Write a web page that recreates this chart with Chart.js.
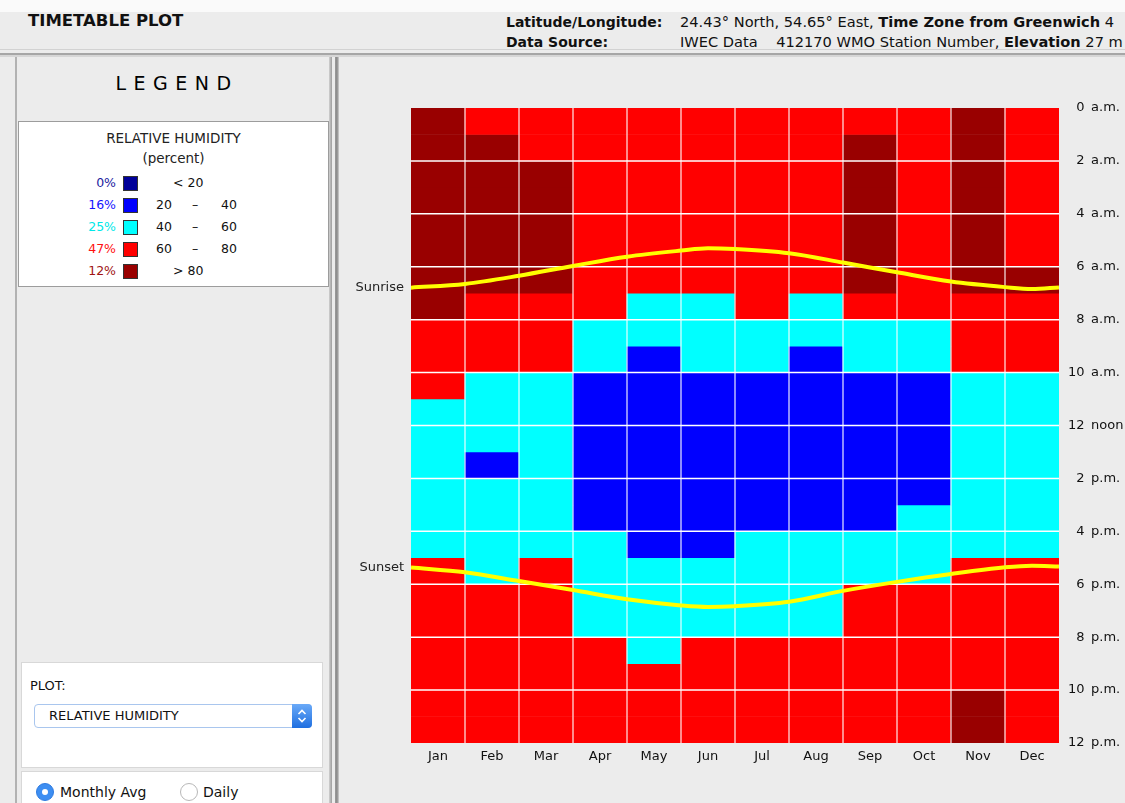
<!DOCTYPE html>
<html>
<head>
<meta charset="utf-8">
<title>Timetable plot - relative humidity</title>
<script src="https://cdn.jsdelivr.net/npm/chart.js@4/dist/chart.umd.min.js"></script>
<style>
  html, body { margin: 0; padding: 0; }
  body {
    width: 1125px; height: 803px; overflow: hidden; position: relative;
    background: #ececec; color: #111;
    font-family: "DejaVu Sans", Verdana, sans-serif;
  }
  .abs { position: absolute; white-space: nowrap; }
  #topStrip { left: 0; top: 0; width: 1125px; height: 12px; background: #fafafa; }
  #title { left: 28px; top: 11px; font-size: 16.5px; font-weight: bold; line-height: 20px; }
  #info { left: 506px; top: 12px; font-size: 14.6px; line-height: 19px; }
  #info .k { display: inline-block; width: 174px; font-weight: bold; font-size: 14px; }
  #sep1 { left: 0; top: 49px; width: 1125px; height: 1px; background: #d2d2d2; }
  #sep2 { left: 0; top: 53px; width: 1125px; height: 2px; background: #a6a6a6; }
  #sep3 { left: 0; top: 55px; width: 1125px; height: 2px; background: #d6d6d6; }
  #lpLeft { left: 15px; top: 57px; width: 2px; height: 746px; background: #b2b2b2; }
  #lpRight { left: 329px; top: 57px; width: 3px; height: 746px; background: linear-gradient(to right, #d0d0d0, #9e9e9e); }
  #rpLeft { left: 335px; top: 57px; width: 4px; height: 746px; background: linear-gradient(to right, #9c9c9c, #8a8a8a, #d2d2d2); }
  #legTitle { left: 17px; width: 313px; top: 72px; text-align: center; font-size: 19px; letter-spacing: 7.5px; padding-left: 7px; box-sizing: border-box; color: #000; }
  #legBox { left: 18px; top: 121px; width: 311px; height: 166px; background: #fff; border: 1px solid #9c9c9c; box-sizing: border-box; }
  .legTxt { font-size: 12.5px; line-height: 14px; }
  .legHead { font-size: 13.5px; line-height: 15px; }
  .sw { width: 13px; height: 13px; border: 1px solid #333; }
  #plotBox { left: 21px; top: 662px; width: 302px; height: 106px; background: #fff; border: 1px solid #d8d8d8; box-sizing: border-box; }
  #plotLbl { left: 30px; top: 678px; font-size: 13px; }
  #select { left: 34px; top: 704px; width: 278px; height: 24px; border: 1px solid #a9c6ee; border-radius: 4px; background: #fff; box-sizing: border-box; }
  #selectTxt { left: 49px; top: 708px; font-size: 13px; }
  #stepper { left: 292px; top: 704px; width: 20px; height: 24px; border-radius: 0 4px 4px 0; background: linear-gradient(#6aaaf8, #1f6fe0); }
  #radioBox { left: 21px; top: 771px; width: 302px; height: 40px; background: #fff; border: 1px solid #d8d8d8; box-sizing: border-box; }
  .radio { width: 18px; height: 18px; border-radius: 50%; box-sizing: border-box; }
  #r1 { left: 36px; top: 783px; background: #3d8ef2; border: 1px solid #2f7be0; }
  #r1dot { left: 42px; top: 789px; width: 6px; height: 6px; border-radius: 50%; background: #fff; }
  #r2 { left: 180px; top: 783px; background: #fff; border: 1px solid #b8b8b8; }
  .rlbl { top: 783px; font-size: 14px; line-height: 18px; }
  #cv { left: 340px; top: 58px; }
</style>
</head>
<body>
<div class="abs" id="topStrip"></div>
<div class="abs" id="title">TIMETABLE PLOT</div>
<div class="abs" id="info">
  <div><span class="k">Latitude/Longitude:</span>24.43° North, 54.65° East, <b>Time Zone from Greenwich</b> 4</div>
  <div><span class="k">Data Source:</span>IWEC Data &nbsp;&nbsp; 412170 WMO Station Number, <b>Elevation</b> 27 m</div>
</div>
<div class="abs" id="sep1"></div>
<div class="abs" id="sep2"></div>
<div class="abs" id="sep3"></div>
<div class="abs" id="lpLeft"></div>
<div class="abs" id="lpRight"></div>
<div class="abs" id="rpLeft"></div>

<div class="abs" id="legTitle">LEGEND</div>
<div class="abs" id="legBox"></div>
<div id="legRows"></div>

<div class="abs" id="plotBox"></div>
<div class="abs" id="plotLbl">PLOT:</div>
<div class="abs" id="select"></div>
<div class="abs" id="selectTxt">RELATIVE HUMIDITY</div>
<div class="abs" id="stepper">
  <svg width="20" height="24" viewBox="0 0 20 24">
    <polyline points="6.5,10 10,6.5 13.5,10" fill="none" stroke="#fff" stroke-width="1.6"/>
    <polyline points="6.5,14 10,17.5 13.5,14" fill="none" stroke="#fff" stroke-width="1.6"/>
  </svg>
</div>
<div class="abs" id="radioBox"></div>
<div class="abs radio" id="r1"></div>
<div class="abs" id="r1dot"></div>
<div class="abs rlbl" style="left:60px">Monthly Avg</div>
<div class="abs radio" id="r2"></div>
<div class="abs rlbl" style="left:203px">Daily</div>

<canvas class="abs" id="cv" width="785" height="745"></canvas>

<script>
const months = ['Jan','Feb','Mar','Apr','May','Jun','Jul','Aug','Sep','Oct','Nov','Dec'];

// humidity class for each hour (0 a.m. first), one string per month
// N: < 20, B: 20-40, C: 40-60, R: 60-80, D: > 80
const rhHourly = [
  'DDDDDDDDRRRCCCCCCRRRRRRR', // Jan
  'RDDDDDDRRRCCCBCCCCRRRRRR', // Feb
  'RRDDDDDRRRCCCCCCCRRRRRRR', // Mar
  'RRRRRRRRCCBBBBBBCCCCRRRR', // Apr
  'RRRRRRRCCBBBBBBBBCCCCRRR', // May
  'RRRRRRRCCCBBBBBBBCCCRRRR', // Jun
  'RRRRRRRRCCBBBBBBCCCCRRRR', // Jul
  'RRRRRRRCCBBBBBBBCCCCRRRR', // Aug
  'RDDDDDDRCCBBBBBBCCRRRRRR', // Sep
  'RRRRRRRRCCBBBBBCCCRRRRRR', // Oct
  'DDDDDDDRRRCCCCCCCRRRRRDD', // Nov
  'RRRRRRDRRRCCCCCCCRRRRRRR'  // Dec
];

// sun lines, position in months from Jan 1 and hour of day
const sunMonthPos = [0, 1, 2, 3, 4, 5, 5.5, 6, 7, 8, 9, 10, 11, 11.5, 12];
const sunriseHour = [6.79, 6.65, 6.34, 5.97, 5.62, 5.39, 5.30, 5.33, 5.49, 5.84, 6.21, 6.56, 6.77, 6.84, 6.78];
const sunsetHour = [17.37, 17.55, 17.88, 18.22, 18.57, 18.80, 18.86, 18.83, 18.66, 18.25, 17.91, 17.61, 17.36, 17.30, 17.33];

const hourLabels = ['0 a.m.','2 a.m.','4 a.m.','6 a.m.','8 a.m.','10 a.m.','12 noon',
                    '2 p.m.','4 p.m.','6 p.m.','8 p.m.','10 p.m.','12 p.m.'];

// legend
const legendCodes = ['N','B','C','R','D'];
const legendRanges = [['<','20'], ['20','40'], ['40','60'], ['60','80'], ['>','80']];

const cellColor = { N: '#000099', B: '#0000ff', C: '#00ffff', R: '#ff0000', D: '#990000' };
const pctColor = { N: '#1c1ca0', B: '#1414ff', C: '#00e8e8', R: '#ff1010', D: '#a01414' };

Chart.defaults.font.family = '"DejaVu Sans", Verdana, sans-serif';

// build legend rows, share of hours in each class
var allCells = rhHourly.join('');
var legRows = document.getElementById('legRows');
function addText(txt, left, top, color, extra, cls){
    var d = document.createElement('div');
    d.className = 'abs ' + (cls || 'legTxt');
    d.style.left = left + 'px';
    d.style.top = top + 'px';
    if(color) d.style.color = color;
    if(extra) Object.assign(d.style, extra);
    d.textContent = txt;
    legRows.appendChild(d);
    return d;
}
addText('RELATIVE HUMIDITY', 18, 131, '#222', {width:'311px', textAlign:'center'}, 'legHead');
addText('(percent)', 18, 151, '#222', {width:'311px', textAlign:'center'}, 'legHead');
legendCodes.forEach(function(code, i){
    var cy = 183 + i * 22;
    var n = allCells.split(code).length - 1;
    var pct = Math.round(100 * n / allCells.length) + '%';
    addText(pct, 0, cy - 7, pctColor[code], {width:'116px', textAlign:'right'});
    var sw = document.createElement('div');
    sw.className = 'abs sw';
    sw.style.left = '123px';
    sw.style.top = (cy - 7) + 'px';
    sw.style.background = cellColor[code];
    legRows.appendChild(sw);
    var r = legendRanges[i];
    if(r[0] === '<' || r[0] === '>'){
        addText(r[0] + ' ' + r[1], 173, cy - 7, '#111');
    }else{
        addText(r[0], 156, cy - 7, '#111');
        addText('\u2013', 192, cy - 7, '#111');
        addText(r[1], 221, cy - 7, '#111');
    }
});

// one floating-bar dataset per hour row, coloured by class
var cellSets = [];
for(var h = 0; h < 24; h++){
    cellSets.push({
        type: 'bar',
        order: 1,
        data: months.map(function(){ return [h, h + 1]; }),
        backgroundColor: rhHourly.map(function(s){ return cellColor[s[h]]; }),
        borderWidth: 0,
        grouped: false,
        barPercentage: 1,
        categoryPercentage: 1
    });
}

function sunLine(hours){
    return {
        type: 'line',
        order: 0,
        xAxisID: 'xs',
        data: sunMonthPos.map(function(m, i){ return {x: m, y: hours[i]}; }),
        borderColor: '#ffff00',
        borderWidth: 4,
        pointRadius: 0,
        cubicInterpolationMode: 'monotone',
        fill: false
    };
}

// white grid over the cells but under the sun lines, plus Sunrise/Sunset labels
const cellGrid = {
    id: 'cellGrid',
    beforeDatasetsDraw(chart){
        chart.$gridDone = false;
    },
    beforeDatasetDraw(chart, args){
        if(chart.$gridDone || args.meta.type !== 'line') return;
        chart.$gridDone = true;
        var ctx = chart.ctx, a = chart.chartArea;
        var x = chart.scales.x, y = chart.scales.y;
        ctx.save();
        ctx.strokeStyle = 'rgba(255,255,255,0.55)';
        ctx.lineWidth = 2;
        for(var i = 1; i < months.length; i++){
            var px = Math.round((x.getPixelForValue(i - 1) + x.getPixelForValue(i)) / 2);
            ctx.beginPath(); ctx.moveTo(px, a.top); ctx.lineTo(px, a.bottom); ctx.stroke();
        }
        ctx.strokeStyle = '#ffffff';
        ctx.lineWidth = 1.5;
        for(var hh = 2; hh < 24; hh += 2){
            var py = y.getPixelForValue(hh);
            ctx.beginPath(); ctx.moveTo(a.left, py); ctx.lineTo(a.right, py); ctx.stroke();
        }
        ctx.restore();
    },
    afterDraw(chart){
        var ctx = chart.ctx, a = chart.chartArea, y = chart.scales.y;
        ctx.save();
        ctx.font = '13px "DejaVu Sans", Verdana, sans-serif';
        ctx.fillStyle = '#222';
        ctx.textAlign = 'right';
        ctx.textBaseline = 'middle';
        ctx.fillText('Sunrise', a.left - 7, y.getPixelForValue(sunriseHour[0]));
        ctx.fillText('Sunset', a.left - 7, y.getPixelForValue(sunsetHour[0]));
        ctx.restore();
    }
};

function hourTick(v){
    var lbl = hourLabels[v / 2];
    if(lbl === undefined) return '';
    var parts = lbl.split(' ');
    var num = parts[0].length < 2 ? '\u2007' + parts[0] : parts[0];
    return num + '\u2002' + parts[1];
}

new Chart(document.getElementById('cv'), {
    data: {
        labels: months,
        datasets: cellSets.concat([sunLine(sunriseHour), sunLine(sunsetHour)])
    },
    options: {
        responsive: false,
        animation: false,
        layout: { padding: { left: 71, top: 50, right: 0, bottom: 0 } },
        plugins: { legend: { display: false }, tooltip: { enabled: false } },
        scales: {
            x: {
                type: 'category',
                offset: true,
                grid: { display: false, drawTicks: false },
                border: { display: false },
                ticks: { color: '#111', font: { size: 13 }, padding: 6, maxRotation: 0 },
                afterFit: function(s){ s.height = 60; }
            },
            xs: { type: 'linear', min: 0, max: 12, display: false },
            y: {
                position: 'right',
                min: 0,
                max: 24,
                reverse: true,
                grid: { display: false, drawTicks: false },
                border: { display: false },
                ticks: {
                    stepSize: 2,
                    autoSkip: false,
                    crossAlign: 'near',
                    padding: 9,
                    color: '#111',
                    font: { size: 13 },
                    callback: hourTick
                },
                afterFit: function(s){ s.width = 66; }
            }
        }
    },
    plugins: [cellGrid]
});
</script>
</body>
</html>
